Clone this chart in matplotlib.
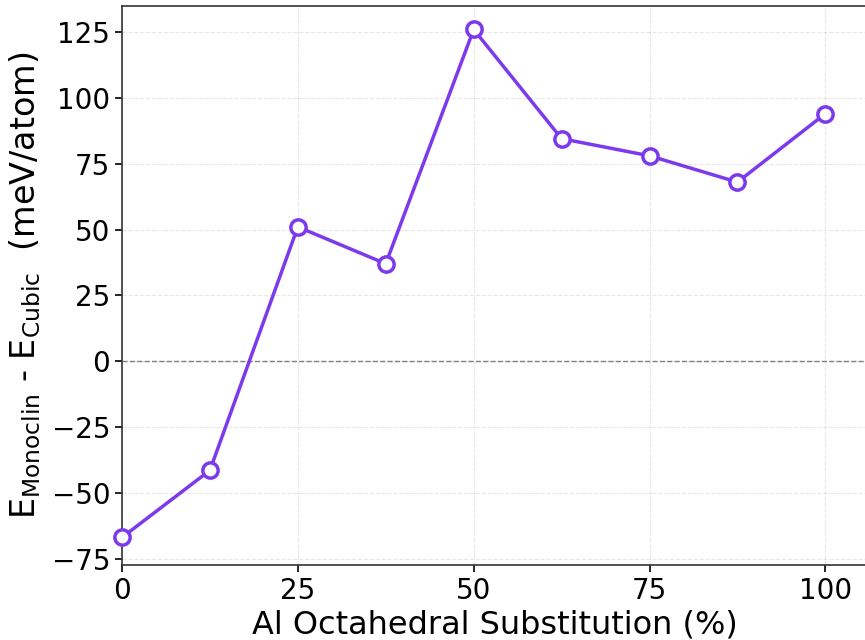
import matplotlib
matplotlib.use('Agg')
import matplotlib.pyplot as plt

# Al substitution (%) and energy difference (meV/atom)
al_pct = [0, 12.5, 25, 37.5, 50, 62.5, 75, 87.5, 100]
delta_e = [-67, -41.5, 51, 37, 126, 84.5, 78, 68, 94]
xticks = [0, 25, 50, 75, 100]
yticks = [-75, -50, -25, 0, 25, 50, 75, 100, 125]

fig = plt.figure(figsize=(8.65, 6.4), dpi=100)
ax = fig.add_axes([0.141, 0.117, 0.862, 0.874])

ax.axhline(0, color='gray', linestyle='--', linewidth=1)
ax.plot(al_pct, delta_e, color='#7c3aed', linewidth=2.5, marker='o',
        markersize=11, markerfacecolor='white', markeredgewidth=2.5,
        clip_on=False, zorder=3)

ax.set_xlim(0, 106)
ax.set_ylim(-77.5, 135)
ax.set_xticks(xticks)
ax.set_yticks(yticks)
ax.tick_params(labelsize=20, length=5, width=1.2)
for s in ax.spines.values():
    s.set_linewidth(1.2)
    s.set_color('#333333')
ax.grid(True, linestyle='--', alpha=0.3)
ax.set_xlabel('Al Octahedral Substitution (%)', fontsize=23, labelpad=3)
ax.set_ylabel(r'E$_{\mathrm{Monoclin}}$ - E$_{\mathrm{Cubic}}$  (meV/atom)', fontsize=24, labelpad=6)

plt.savefig('out.png', dpi=100)
